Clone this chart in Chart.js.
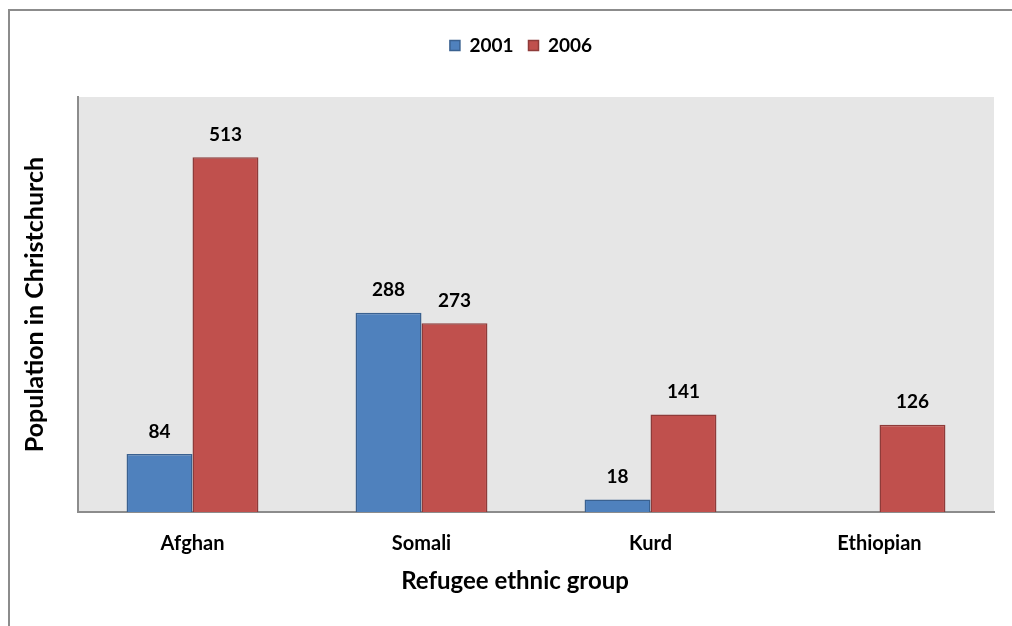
<!DOCTYPE html>
<html>
<head>
<meta charset="utf-8">
<script src="https://cdn.jsdelivr.net/npm/chart.js@4"></script>
<style>
  body { margin: 0; background: #fff; }
  #wrap { position: relative; width: 1012px; height: 626px; }
</style>
</head>
<body>
<div id="wrap"><canvas id="chart" width="1012" height="626"></canvas></div>
<script>
const groups = ['Afghan', 'Somali', 'Kurd', 'Ethiopian']
const pop2001 = [84, 288, 18, null]
const pop2006 = [513, 273, 141, 126]

const fontFamily = 'Lato, "Open Sans", sans-serif'
const xTitle = 'Refugee ethnic group'

// grey frame around the whole chart and the grey plot background
const backdrop = {
  id: 'backdrop',
  beforeDraw(chart) {
    const ctx = chart.ctx
    const a = chart.chartArea
    ctx.save()
    ctx.strokeStyle = '#8c8c8c'
    ctx.lineWidth = 2
    ctx.strokeRect(9, 10, 1020, 640)
    ctx.fillStyle = '#e6e6e6'
    ctx.fillRect(a.left, a.top, a.right - a.left, a.bottom - a.top)
    ctx.restore()
  },
  // x axis title sits centred on the whole figure, not on the plot
  afterDraw(chart) {
    const ctx = chart.ctx
    ctx.save()
    ctx.font = 'bold 24px ' + fontFamily
    ctx.fillStyle = '#000'
    ctx.textAlign = 'center'
    ctx.textBaseline = 'middle'
    ctx.fillText(xTitle, 515, 581)
    ctx.restore()
  }
}

// legend: fixed height and nudged like the original
const legendFit = {
  id: 'legendFit',
  beforeInit(chart) {
    const origFit = chart.legend.fit
    chart.legend.fit = function () {
      origFit.bind(chart.legend)()
      this.height = 87
    }
  },
  afterLayout(chart) {
    chart.legend.left += 20
    chart.legend.right += 20
    chart.legend.top += 11
  }
}

// value labels above bars
const barLabels = {
  id: 'barLabels',
  afterDatasetsDraw(chart) {
    const ctx = chart.ctx
    ctx.save()
    ctx.font = 'bold 19px ' + fontFamily
    ctx.fillStyle = '#000'
    ctx.textAlign = 'center'
    ctx.textBaseline = 'bottom'
    chart.data.datasets.forEach((ds, i) => {
      chart.getDatasetMeta(i).data.forEach((bar, j) => {
        const v = ds.data[j]
        if (v === null || v === undefined) return
        ctx.fillText(v, bar.x, bar.y - 13)
      })
    })
    ctx.restore()
  }
}

new Chart(document.getElementById('chart'), {
  type: 'bar',
  data: {
    labels: groups,
    datasets: [
      {
        label: '2001',
        data: pop2001,
        backgroundColor: '#4f81bd',
        borderColor: '#3a6190',
        borderWidth: 1.5,
      },
      {
        label: '2006',
        data: pop2006,
        backgroundColor: '#c0504d',
        borderColor: '#8e3b39',
        borderWidth: 1.5,
      }
    ]
  },
  options: {
    responsive: false,
    animation: false,
    categoryPercentage: 0.576,
    barPercentage: 1.0,
    layout: {
      padding: { left: 8, right: 18, top: 10, bottom: 30 }
    },
    plugins: {
      legend: {
        position: 'top',
        labels: {
          color: '#000',
          font: { family: fontFamily, size: 19, weight: 'bold' },
          boxWidth: 10,
          boxHeight: 10,
          padding: 15,
        }
      },
      tooltip: { enabled: false }
    },
    scales: {
      x: {
        grid: { display: false },
        border: { color: '#8c8c8c', width: 2 },
        ticks: {
          color: '#000',
          padding: 12,
          font: { family: fontFamily, size: 20, weight: 'bold' }
        },
        afterFit: s => { s.height = 84 }
      },
      y: {
        min: 0,
        max: 600,
        grid: { display: false },
        border: { color: '#8c8c8c', width: 2 },
        ticks: { display: false },
        title: {
          display: true,
          text: 'Population in Christchurch',
          color: '#000',
          font: { family: fontFamily, size: 25, weight: 'bold' },
          padding: { top: 12, bottom: 0 }
        },
        afterFit: s => { s.width = 70 }
      }
    }
  },
  plugins: [backdrop, legendFit, barLabels]
})
</script>
</body>
</html>
